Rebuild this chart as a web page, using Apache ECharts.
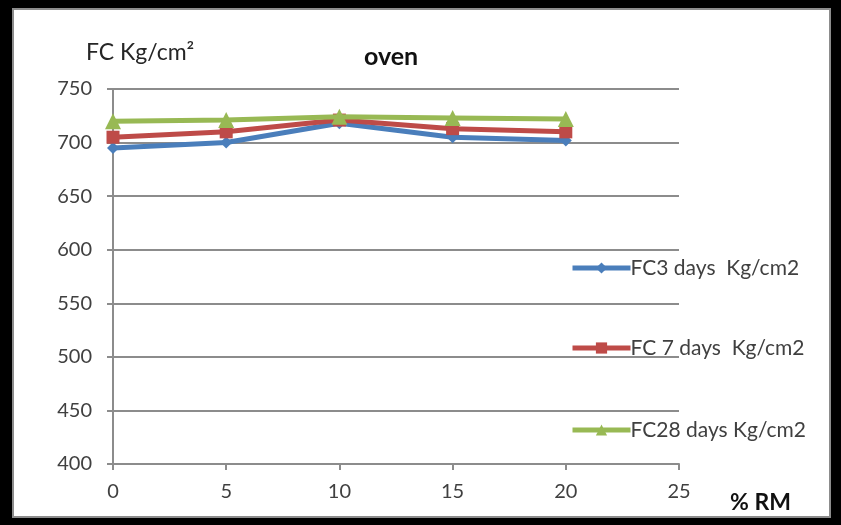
<!DOCTYPE html>
<html>
<head>
<meta charset="utf-8">
<script src="https://cdn.jsdelivr.net/npm/echarts@6/dist/echarts.min.js"></script>
<style>
  html, body { margin: 0; padding: 0; background: #000; }
  #chart { width: 841px; height: 525px; }
</style>
</head>
<body>
<div id="chart"></div>
<script>
// % RM values along the x axis
const rmPercent = [0, 5, 10, 15, 20];
// compressive strength (Kg/cm2) for each curing age
const fc3Days = [695, 700, 718, 705, 702];
const fc7Days = [705, 710, 721, 713, 710];
const fc28Days = [720, 721, 724, 723, 722];
const seriesNames = ['FC3 days  Kg/cm2', 'FC 7 days  Kg/cm2', 'FC28 days Kg/cm2'];

const font = 'Lato, "Open Sans", sans-serif';
const textColor = '#404040';

function pairs(values) {
  return rmPercent.map((x, i) => [x, values[i]]);
}

const chart = echarts.init(document.getElementById('chart'), null, { renderer: 'canvas' });

const colors = ['#4a7ebb', '#be4b48', '#98b954'];
const symbols = ['diamond', 'rect', 'triangle'];
const symbolSizes = [12, 13, 16];

// one legend block per series, stacked down the right side
function legendAt(name, centerY) {
  return {
    data: [name],
    left: 570,
    top: centerY - 11,
    padding: 0,
    itemWidth: 58,
    itemHeight: 14,
    itemGap: 0,
    lineStyle: { width: 5 },
    textStyle: { fontFamily: font, fontSize: 21, color: textColor, padding: [0, 0, 0, -5], lineHeight: 22 },
    selectedMode: false
  };
}

chart.setOption({
  backgroundColor: 'transparent',
  animation: false,
  graphic: [
    {
      type: 'rect',
      shape: { x: 13, y: 9, width: 817, height: 508 },
      style: { fill: '#ffffff', stroke: '#8c8c8c', lineWidth: 2 },
      z: -10
    },
    {
      type: 'text', x: 86, y: 53,
      style: { text: 'FC Kg/cm²', font: '23px ' + font, fill: '#262626', verticalAlign: 'middle' }
    },
    {
      type: 'text', x: 364, y: 57,
      style: { text: 'oven', font: 'bold 25px ' + font, fill: '#111', verticalAlign: 'middle' }
    },
    {
      type: 'text', x: 730, y: 503,
      style: { text: '% RM', font: 'bold 23px ' + font, fill: '#111', verticalAlign: 'middle' }
    }
  ],
  legend: [
    legendAt(seriesNames[0], 268),
    legendAt(seriesNames[1], 348),
    legendAt(seriesNames[2], 430)
  ],
  grid: { left: 113, right: 162, top: 89, bottom: 61, containLabel: false },
  xAxis: {
    type: 'value',
    min: 0, max: 25, interval: 5,
    axisLine: { show: true, lineStyle: { color: '#8c8c8c', width: 2 } },
    axisTick: { show: true, length: 6, lineStyle: { color: '#8c8c8c', width: 2 } },
    axisLabel: { fontFamily: font, fontSize: 20, color: textColor, margin: 18 },
    splitLine: { show: false }
  },
  yAxis: {
    type: 'value',
    min: 400, max: 750, interval: 50,
    axisLine: { show: true, lineStyle: { color: '#8c8c8c', width: 2 } },
    axisTick: { show: true, length: 6, lineStyle: { color: '#8c8c8c', width: 2 } },
    axisLabel: { fontFamily: font, fontSize: 20, color: textColor, margin: 21 },
    splitLine: { show: true, lineStyle: { color: '#8c8c8c', width: 2 } }
  },
  series: [fc3Days, fc7Days, fc28Days].map((vals, i) => ({
    name: seriesNames[i],
    type: 'line',
    data: pairs(vals),
    symbol: symbols[i],
    symbolSize: symbolSizes[i],
    showAllSymbol: true,
    lineStyle: { color: colors[i], width: 5 },
    itemStyle: { color: colors[i] },
    z: 3 + i
  }))
});
</script>
</body>
</html>
